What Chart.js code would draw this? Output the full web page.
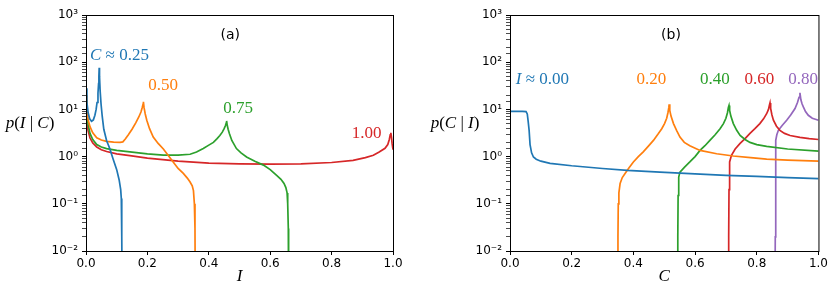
<!DOCTYPE html>
<html lang="en">
<head>
<meta charset="UTF-8" />
<script src="https://cdn.jsdelivr.net/npm/chart.js@4.4.1/dist/chart.umd.min.js"></script>
<title>p(I|C) and p(C|I)</title>
<style>
  body { margin: 0; background: #fff; }
  #wrap { position: relative; width: 830px; height: 303px; }
  canvas { position: absolute; top: 0; }
</style>
</head>
<body>
<div id="wrap">
  <canvas id="chartA" width="415" height="303" style="left:0"></canvas>
  <canvas id="chartB" width="415" height="303" style="left:415px"></canvas>
</div>
<script>
// panel (a): p(I | C), one curve per C
const aI25 = [0, 0.003, 0.007, 0.012, 0.018, 0.024, 0.029, 0.033, 0.036, 0.039, 0.041, 0.042, 0.043, 0.044, 0.046, 0.049, 0.053, 0.058, 0.067, 0.077, 0.088, 0.1, 0.108, 0.113, 0.115, 0.116, 0.117, 0.118]
const aP25 = [28, 14, 8.5, 6.3, 5.6, 6.0, 7.5, 10, 14, 22, 35, 50, 76, 50, 25, 13, 7, 3.8, 2.2, 1.5, 0.9, 0.53, 0.32, 0.2, 0.13, 0.06, 0.02, 0.001]
const aI50 = [0, 0.003, 0.007, 0.013, 0.022, 0.035, 0.05, 0.067, 0.09, 0.111, 0.12, 0.128, 0.138, 0.15, 0.162, 0.172, 0.179, 0.183, 0.186, 0.187, 0.189, 0.193, 0.198, 0.207, 0.219, 0.235, 0.252, 0.268, 0.284, 0.3, 0.317, 0.33, 0.339, 0.346, 0.35, 0.353, 0.355, 0.356]
const aP50 = [20, 9, 6, 4.3, 3.2, 2.5, 2.25, 2.1, 2.02, 2.0, 2.05, 2.35, 2.9, 3.8, 5.2, 6.9, 8.8, 10.8, 13, 14.5, 11, 8, 5.9, 3.9, 2.6, 1.9, 1.45, 1.05, 0.77, 0.56, 0.44, 0.35, 0.29, 0.24, 0.19, 0.1, 0.03, 0.001]
const aI75 = [0, 0.003, 0.007, 0.013, 0.022, 0.035, 0.05, 0.067, 0.1, 0.143, 0.2, 0.252, 0.3, 0.339, 0.36, 0.382, 0.4, 0.415, 0.427, 0.436, 0.444, 0.45, 0.454, 0.457, 0.458, 0.46, 0.463, 0.467, 0.475, 0.49, 0.505, 0.523, 0.55, 0.578, 0.6, 0.621, 0.635, 0.645, 0.651, 0.655, 0.657, 0.659, 0.66]
const aP75 = [16, 7.5, 4.8, 3.1, 2.3, 1.8, 1.6, 1.48, 1.35, 1.26, 1.14, 1.07, 1.07, 1.12, 1.25, 1.48, 1.75, 2.0, 2.4, 2.8, 3.3, 3.9, 4.5, 5.2, 5.7, 4.6, 3.8, 3.1, 2.2, 1.48, 1.2, 0.98, 0.8, 0.66, 0.53, 0.4, 0.33, 0.27, 0.22, 0.17, 0.1, 0.03, 0.001]
const aI100 = [0, 0.003, 0.007, 0.013, 0.022, 0.035, 0.05, 0.067, 0.1, 0.143, 0.2, 0.25, 0.3, 0.4, 0.5, 0.6, 0.7, 0.8, 0.87, 0.91, 0.936, 0.955, 0.974, 0.983, 0.988, 0.991, 0.993, 0.995, 0.997, 1.0]
const aP100 = [12, 5, 3.5, 2.5, 1.95, 1.6, 1.4, 1.28, 1.14, 1.05, 0.93, 0.86, 0.8, 0.73, 0.7, 0.69, 0.7, 0.75, 0.83, 0.95, 1.07, 1.25, 1.5, 1.8, 2.3, 2.9, 3.2, 2.6, 1.9, 1.4]

// panel (b): p(C | I), one curve per I
const bC00 = [0, 0.02, 0.04, 0.052, 0.056, 0.059, 0.062, 0.065, 0.07, 0.076, 0.085, 0.1, 0.13, 0.2, 0.3, 0.38, 0.486, 0.6, 0.7, 0.8, 0.9, 1.0]
const bP00 = [9.1, 9.1, 9.1, 9.0, 8, 5.5, 3.6, 1.8, 1.2, 0.98, 0.88, 0.8, 0.72, 0.64, 0.56, 0.51, 0.47, 0.43, 0.4, 0.38, 0.36, 0.34]
const bC20 = [0.349, 0.35, 0.351, 0.353, 0.357, 0.364, 0.373, 0.386, 0.4, 0.416, 0.432, 0.448, 0.465, 0.48, 0.492, 0.501, 0.508, 0.512, 0.515, 0.516, 0.518, 0.522, 0.53, 0.54, 0.551, 0.565, 0.583, 0.616, 0.67, 0.724, 0.78, 0.832, 0.9, 1.0]
const bP20 = [0.001, 0.02, 0.1, 0.17, 0.27, 0.36, 0.44, 0.58, 0.77, 1.0, 1.26, 1.65, 2.2, 3.0, 3.9, 5.0, 6.5, 8.5, 11, 12.8, 9.5, 7.2, 5.0, 3.6, 2.6, 2.0, 1.7, 1.35, 1.15, 1.03, 0.95, 0.88, 0.84, 0.8]
const bC40 = [0.543, 0.544, 0.545, 0.547, 0.551, 0.566, 0.583, 0.6, 0.616, 0.632, 0.648, 0.665, 0.681, 0.692, 0.7, 0.705, 0.708, 0.71, 0.712, 0.716, 0.724, 0.735, 0.746, 0.762, 0.778, 0.8, 0.832, 0.9, 1.0]
const bP40 = [0.001, 0.02, 0.15, 0.37, 0.47, 0.6, 0.77, 1.0, 1.35, 1.7, 2.2, 2.9, 3.9, 5.0, 6.5, 8.5, 11, 12.1, 9.5, 7.2, 5.0, 3.6, 2.8, 2.3, 2.0, 1.8, 1.65, 1.45, 1.3]
const bC60 = [0.708, 0.709, 0.71, 0.712, 0.718, 0.73, 0.746, 0.762, 0.778, 0.794, 0.81, 0.822, 0.832, 0.838, 0.841, 0.843, 0.845, 0.849, 0.854, 0.864, 0.875, 0.89, 0.908, 0.94, 0.97, 1.0]
const bP60 = [0.001, 0.02, 0.2, 0.77, 1.07, 1.45, 1.9, 2.4, 3.1, 3.9, 5.0, 6.3, 8.1, 10, 12.2, 13.7, 10.5, 7.7, 5.9, 4.4, 3.6, 3.1, 2.8, 2.55, 2.4, 2.3]
const bC80 = [0.859, 0.86, 0.861, 0.862, 0.865, 0.87, 0.883, 0.897, 0.91, 0.924, 0.932, 0.937, 0.94, 0.943, 0.947, 0.951, 0.958, 0.967, 0.98, 1.0]
const bP80 = [0.001, 0.02, 0.3, 2.2, 2.9, 3.6, 4.6, 5.9, 7.6, 10.4, 14, 18, 22.4, 16, 13, 11.3, 9, 7.5, 6.5, 5.9]

const xTicks = [0, 0.2, 0.4, 0.6, 0.8, 1.0]
const yRange = [0.01, 1000]

// curve labels: [x, y, text runs [string, italic]]
const aNotes = [
  [0.013, 140, [['C', true], [' \u2248 0.25', false]]],
  [0.203, 32, [['0.50', false]]],
  [0.447, 10.5, [['0.75', false]]],
  [0.866, 3.1, [['1.00', false]]],
]
const bNotes = [
  [0.019, 42, [['I', true], [' \u2248 0.00', false]]],
  [0.41, 42, [['0.20', false]]],
  [0.616, 42, [['0.40', false]]],
  [0.76, 42, [['0.60', false]]],
  [0.902, 42, [['0.80', false]]],
]

const colors = ['#1f77b4', '#ff7f0e', '#2ca02c', '#d62728', '#9467bd']
const serif = '"Liberation Serif", "Times New Roman", serif'
const sans = '"DejaVu Sans", sans-serif'

const pts = (xs, ys) => xs.map((x, i) => ({ x: x, y: ys[i] }))
const sup = { '-': '\u207b', '0': '\u2070', '1': '\u00b9', '2': '\u00b2', '3': '\u00b3' }

function drawRuns(ctx, x, y, runs, size, color, align) {
  ctx.save()
  ctx.fillStyle = color
  ctx.textBaseline = 'middle'
  ctx.textAlign = 'left'
  let total = 0
  runs.forEach(([t, it]) => {
    ctx.font = (it ? 'italic ' : '') + size + 'px ' + serif
    total += ctx.measureText(t).width
  })
  let cx = align === 'center' ? x - total / 2 : x
  runs.forEach(([t, it]) => {
    ctx.font = (it ? 'italic ' : '') + size + 'px ' + serif
    ctx.fillText(t, cx, y)
    cx += ctx.measureText(t).width
  })
  ctx.restore()
}

function decor(panel, notes, ylab, xlab, ylabX) {
  return {
    id: 'decor',
    afterDraw(chart) {
      const ctx = chart.ctx
      const a = chart.chartArea
      const sx = chart.scales.x
      const sy = chart.scales.y
      ctx.save()
      ctx.strokeStyle = '#000'
      ctx.lineWidth = 1
      ctx.strokeRect(a.left + 0.5, a.top + 0.5, a.right - a.left, a.bottom - a.top)
      ctx.fillStyle = '#000'
      ctx.font = '14px ' + sans
      ctx.textAlign = 'center'
      ctx.textBaseline = 'middle'
      ctx.fillText(panel[0], sx.getPixelForValue(panel[1]), sy.getPixelForValue(panel[2]))
      ctx.restore()
      notes.forEach((n, i) => {
        drawRuns(ctx, sx.getPixelForValue(n[0]), sy.getPixelForValue(n[1]), n[2], 17, colors[i], 'left')
      })
      drawRuns(ctx, ylabX, 124, ylab, 17, '#000', 'center')
      drawRuns(ctx, (a.left + a.right) / 2, 277, xlab, 17, '#000', 'center')
    },
  }
}

function makeChart(id, sets, yWidth, padRight, plugin) {
  return new Chart(document.getElementById(id), {
    type: 'line',
    data: {
      datasets: sets.map((s, i) => ({
        data: pts(s[0], s[1]),
        borderColor: colors[i],
        borderWidth: 1.7,
        pointRadius: 0,
        tension: 0,
        fill: false,
      })),
    },
    options: {
      responsive: false,
      animation: false,
      layout: { padding: { top: 15, right: padRight, left: 0, bottom: 0 } },
      plugins: { legend: { display: false }, tooltip: { enabled: false } },
      scales: {
        x: {
          type: 'linear',
          min: 0,
          max: 1,
          afterBuildTicks: (s) => { s.ticks = xTicks.map((v) => ({ value: v })) },
          afterFit: (s) => { s.height = 52 },
          grid: { drawOnChartArea: false, tickLength: 4, tickColor: '#000' },
          border: { color: '#000', width: 1 },
          ticks: {
            color: '#000',
            font: { family: 'DejaVu Sans', size: 12 },
            padding: 2,
            maxRotation: 0,
            callback: (v) => Number(v).toFixed(1),
          },
        },
        y: {
          type: 'logarithmic',
          min: yRange[0],
          max: yRange[1],
          afterFit: (s) => { s.width = yWidth },
          grid: {
            drawOnChartArea: false,
            tickLength: 4,
            tickColor: '#000',
            tickWidth: (c) => (c.tick && c.tick.major ? 1 : 0.7),
          },
          border: { color: '#000', width: 1 },
          ticks: {
            color: '#000',
            autoSkip: false,
            font: { family: 'DejaVu Sans', size: 12 },
            padding: 4,
            callback: (v) => {
              const l = Math.log10(v)
              if (Math.abs(l - Math.round(l)) > 1e-6) return ''
              return '10' + String(Math.round(l)).split('').map((c) => sup[c]).join('')
            },
          },
        },
      },
    },
    plugins: [plugin],
  })
}

makeChart('chartA', [[aI25, aP25], [aI50, aP50], [aI75, aP75], [aI100, aP100]], 86, 22,
  decor(['(a)', 0.47, 372], aNotes,
    [['p', true], ['(', false], ['I', true], [' | ', false], ['C', true], [')', false]],
    [['I', true]], 30))

makeChart('chartB', [[bC00, bP00], [bC20, bP20], [bC40, bP40], [bC60, bP60], [bC80, bP80]], 95, 11,
  decor(['(b)', 0.522, 372], bNotes,
    [['p', true], ['(', false], ['C', true], [' | ', false], ['I', true], [')', false]],
    [['C', true]], 40))
</script>
</body>
</html>
